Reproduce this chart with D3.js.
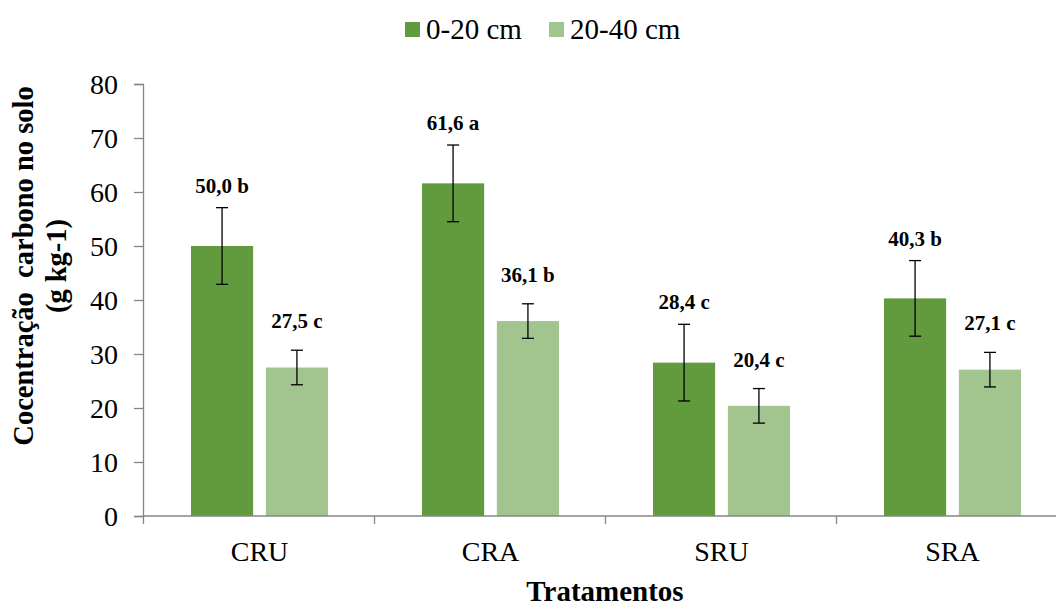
<!DOCTYPE html>
<html>
<head>
<meta charset="utf-8">
<script src="https://cdn.jsdelivr.net/npm/d3@7"></script>
<style>
  body { margin: 0; background: #fff; }
  svg text { font-family: 'Liberation Serif', 'Times New Roman', 'DejaVu Serif', serif !important; fill: #000; }
</style>
</head>
<body>
<script>
// data
const categories = ["CRU", "CRA", "SRU", "SRA"];
const series = ["0-20 cm", "20-40 cm"];
const values0_20 = [50.0, 61.6, 28.4, 40.3];
const values20_40 = [27.5, 36.1, 20.4, 27.1];
const errors0_20 = [7.1, 7.1, 7.1, 7.0];
const errors20_40 = [3.2, 3.2, 3.2, 3.2];
const letters0_20 = ["b", "a", "c", "b"];
const letters20_40 = ["c", "b", "c", "c"];
const yTicks = [0, 10, 20, 30, 40, 50, 60, 70, 80];

const colors = ["#629a3e", "#a2c58f"];
const serif = "'Liberation Serif', 'Times New Roman', 'DejaVu Serif', serif";

const w = 1056;
const h = 606;

//build rows for drawing
const rows = [];
categories.forEach(function(c, i) {
  rows.push({cat: c, s: series[0], v: values0_20[i], e: errors0_20[i], l: letters0_20[i]});
  rows.push({cat: c, s: series[1], v: values20_40[i], e: errors20_40[i], l: letters20_40[i]});
});

const svg = d3.select("body")
  .append("svg")
  .attr("width", w)
  .attr("height", h)
  .style("font-family", serif);

//scales
const xScale = d3.scaleBand()
  .domain(categories)
  .range([144, 1068]);

const groupW = 137;
const xInner = d3.scaleBand()
  .domain(series)
  .range([0, groupW])
  .paddingInner(0.17);

const yScale = d3.scaleLinear()
  .domain([0, 80])
  .range([516, 84]);

const color = d3.scaleOrdinal()
  .domain(series)
  .range(colors);

function barX(d) {
  return xScale(d.cat) + (xScale.bandwidth() - groupW) / 2 + xInner(d.s);
}

//y axis
const yAxis = d3.axisLeft(yScale)
  .tickValues(yTicks)
  .tickSize(9)
  .tickPadding(16)
  .tickFormat(d3.format("d"));

const gy = svg.append("g")
  .attr("transform", "translate(143,0)")
  .call(yAxis)
  .attr("font-family", serif);
gy.select(".domain").attr("stroke", "#868686").attr("stroke-width", 1.3);
gy.selectAll(".tick line").attr("stroke", "#868686").attr("stroke-width", 1.3);
gy.selectAll(".tick text")
  .style("font-size", "28px")
  .attr("fill", "#000")
  .attr("dy", "0.34em");

//bars
svg.selectAll(".bar")
  .data(rows)
  .enter()
  .append("rect")
  .attr("class", "bar")
  .attr("x", barX)
  .attr("y", d => yScale(d.v))
  .attr("width", xInner.bandwidth())
  .attr("height", d => yScale(0) - yScale(d.v))
  .attr("fill", d => color(d.s));

//x axis (drawn over bars bottom)
const xAxis = d3.axisBottom(xScale)
  .tickSize(0)
  .tickPadding(25);

const gx = svg.append("g")
  .attr("transform", "translate(0,516)")
  .call(xAxis)
  .attr("font-family", serif);
gx.select(".domain").remove();
gx.append("line")
  .attr("x1", 143)
  .attr("x2", w)
  .attr("stroke", "#868686")
  .attr("stroke-width", 1.3);
gx.selectAll(".tick text")
  .style("font-size", "28px")
  .attr("fill", "#000");

//category boundary ticks
const bounds = categories.map(c => xScale(c)).concat([xScale.range()[1]]);
gx.selectAll(".bound")
  .data(bounds)
  .enter()
  .append("line")
  .attr("class", "bound")
  .attr("x1", d => Math.round(d) - 0.5)
  .attr("x2", d => Math.round(d) - 0.5)
  .attr("y1", 0)
  .attr("y2", 8)
  .attr("stroke", "#868686")
  .attr("stroke-width", 1.3);

//error bars
const err = svg.selectAll(".err")
  .data(rows)
  .enter()
  .append("g")
  .attr("class", "err")
  .attr("transform", d => "translate(" + (barX(d) + xInner.bandwidth() / 2) + ",0)");

err.append("line")
  .attr("y1", d => yScale(d.v + d.e))
  .attr("y2", d => yScale(d.v - d.e))
  .attr("stroke", "#000")
  .attr("stroke-width", 1.3);

err.selectAll(".cap")
  .data(d => [d.v + d.e, d.v - d.e])
  .enter()
  .append("line")
  .attr("x1", -6)
  .attr("x2", 6)
  .attr("y1", d => yScale(d))
  .attr("y2", d => yScale(d))
  .attr("stroke", "#000")
  .attr("stroke-width", 1.3);

//value labels, a bit higher over the light bars like in the original
const fmt = d3.format(".1f");
svg.selectAll(".lbl")
  .data(rows)
  .enter()
  .append("text")
  .attr("class", "lbl")
  .attr("x", d => barX(d) + xInner.bandwidth() / 2)
  .attr("y", d => yScale(d.v + d.e) - (d.s == series[0] ? 15 : 22))
  .attr("text-anchor", "middle")
  .style("font-size", "21px")
  .style("font-weight", "bold")
  .text(d => fmt(d.v).replace(".", ",") + " " + d.l);

//axis titles
svg.append("text")
  .attr("x", 605)
  .attr("y", 601)
  .attr("text-anchor", "middle")
  .style("font-size", "29px")
  .style("font-weight", "bold")
  .text("Tratamentos");

const yTitle = svg.append("text")
  .attr("transform", "translate(23,266) rotate(-90)")
  .attr("text-anchor", "middle")
  .style("font-size", "28.5px")
  .style("font-weight", "bold")
  .style("white-space", "pre");
yTitle.append("tspan")
  .attr("x", 0)
  .attr("y", 10)
  .text("Cocentração  carbono no solo");
yTitle.append("tspan")
  .attr("x", 0)
  .attr("y", 43)
  .text("(g kg-1)");

//legend
const legendX = [405, 549];
const legend = svg.selectAll(".legend")
  .data(series)
  .enter()
  .append("g")
  .attr("class", "legend")
  .attr("transform", (d, i) => "translate(" + legendX[i] + ",22)");

legend.append("rect")
  .attr("width", 15)
  .attr("height", 15)
  .attr("fill", d => color(d));

legend.append("text")
  .attr("x", 21)
  .attr("y", 16.5)
  .style("font-size", "29px")
  .text(d => d);
</script>
</body>
</html>
